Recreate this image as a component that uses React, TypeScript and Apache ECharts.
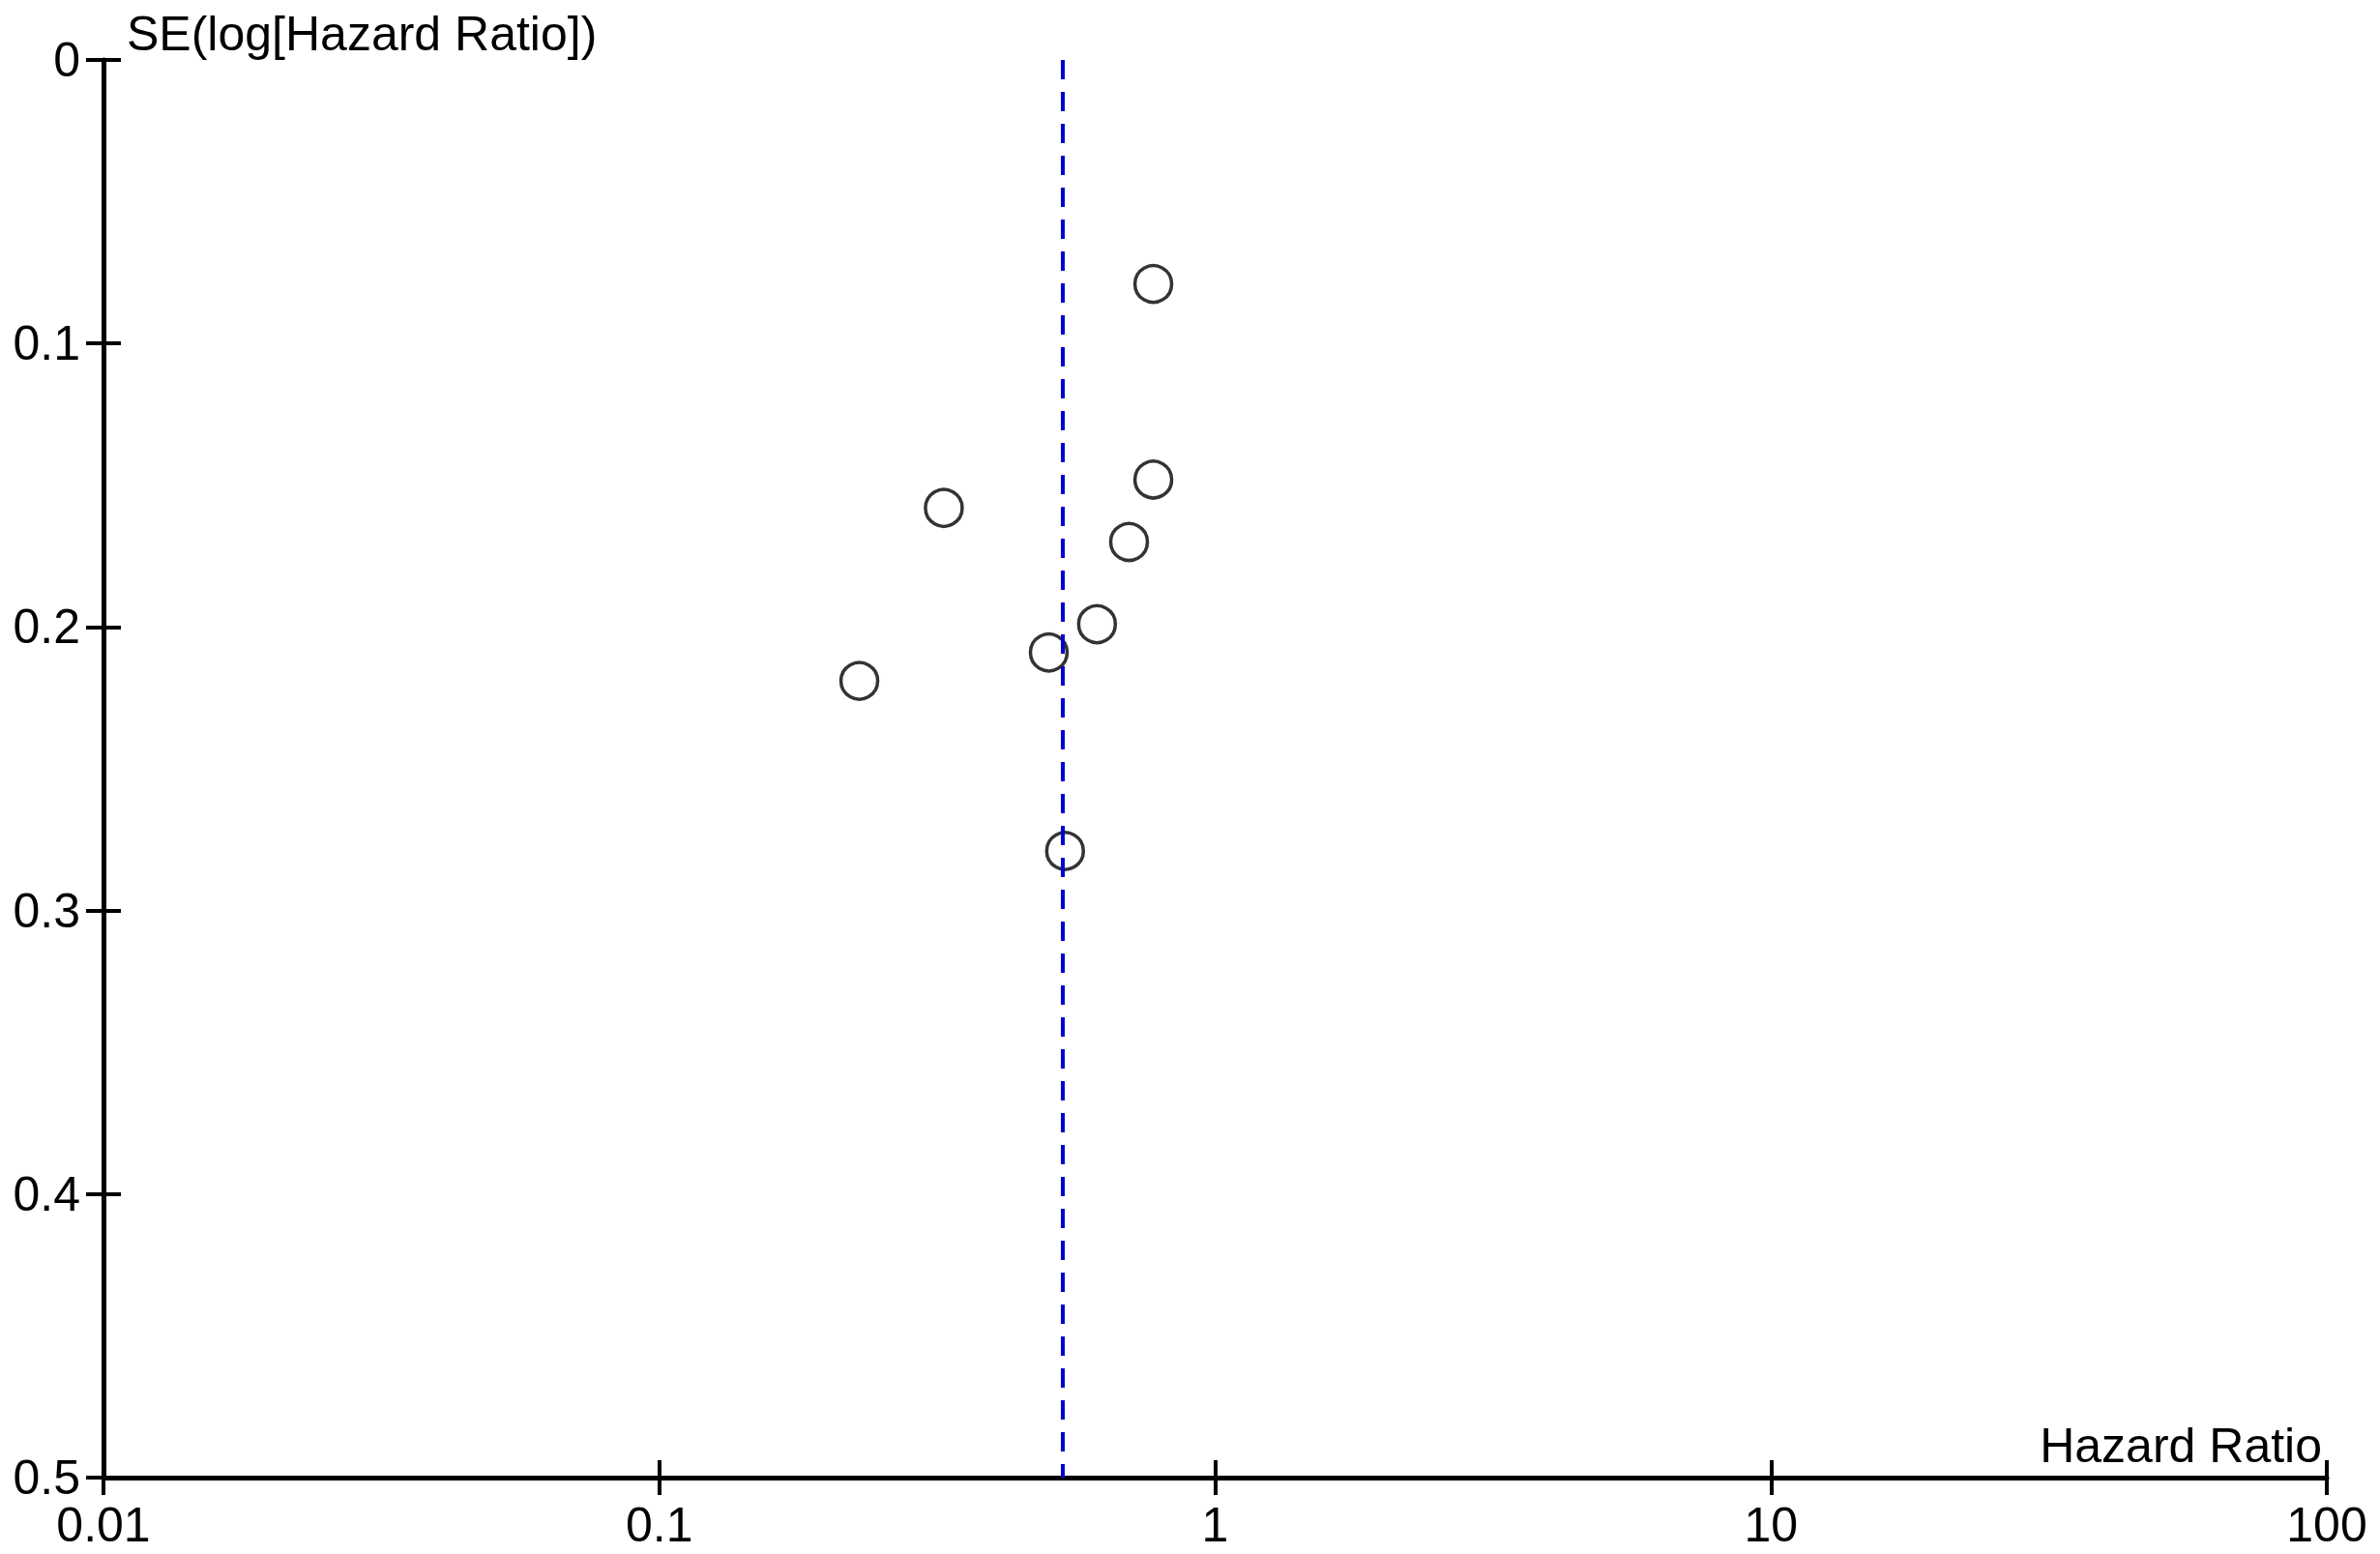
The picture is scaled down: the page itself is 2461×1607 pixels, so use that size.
import React, { useEffect, useRef } from "react";
import * as echarts from "echarts";

const hazardRatios = [0.774, 0.774, 0.325, 0.7, 0.613, 0.502, 0.229, 0.537];
const seLogHR = [0.079, 0.148, 0.158, 0.17, 0.199, 0.209, 0.219, 0.279];
const pooledHR = 0.532;
const seRange = [0, 0.5];
const hrRange = [0.01, 100];

const FONT = "'Liberation Sans', Arial, sans-serif";

export default function App() {
  const ref = useRef<HTMLDivElement>(null);
  useEffect(() => {
    if (!ref.current) return;
    const chart = echarts.init(ref.current, undefined, { renderer: "svg" });
    const points = hazardRatios.map((h, i) => [h, seLogHR[i]]);
    const pooledLine = [
      [pooledHR, seRange[0]],
      [pooledHR, seRange[1]],
    ];
    const axisLineStyle = { color: "#000", width: 5 };
    const tickStyle = { color: "#000", width: 4 };
    chart.setOption({
      animation: false,
      backgroundColor: "#fff",
      grid: { left: 107, right: 55, top: 62, bottom: 79, containLabel: false },
      xAxis: [
        {
          type: "log",
          logBase: 10,
          min: hrRange[0],
          max: hrRange[1],
          position: "bottom",
          name: "Hazard Ratio",
          nameLocation: "end",
          nameGap: -5,
          nameTextStyle: {
            fontFamily: FONT,
            fontSize: 50,
            color: "#000",
            align: "right",
            verticalAlign: "bottom",
            padding: [0, 0, 8, 0],
          },
          axisLine: { show: true, onZero: false, lineStyle: axisLineStyle },
          axisTick: { show: true, inside: false, length: 18, lineStyle: tickStyle },
          axisLabel: { fontFamily: FONT, fontSize: 50, color: "#000", margin: 24 },
          splitLine: { show: false },
          minorTick: { show: false },
        },
        {
          type: "log",
          logBase: 10,
          min: hrRange[0],
          max: hrRange[1],
          position: "bottom",
          axisLine: { show: false, onZero: false },
          axisTick: { show: true, inside: true, length: 18, lineStyle: tickStyle },
          axisLabel: { show: false },
          splitLine: { show: false },
        },
      ],
      yAxis: [
        {
          type: "value",
          min: seRange[0],
          max: seRange[1],
          interval: 0.1,
          inverse: true,
          position: "left",
          name: "SE(log[Hazard Ratio])",
          nameLocation: "start",
          nameGap: 2,
          nameTextStyle: {
            fontFamily: FONT,
            fontSize: 50,
            color: "#000",
            align: "left",
            verticalAlign: "bottom",
            padding: [0, 0, 0, 24],
          },
          axisLine: { show: true, onZero: false, lineStyle: axisLineStyle },
          axisTick: { show: true, inside: false, length: 18, lineStyle: tickStyle },
          axisLabel: { fontFamily: FONT, fontSize: 50, color: "#000", margin: 24 },
          splitLine: { show: false },
        },
        {
          type: "value",
          min: seRange[0],
          max: seRange[1],
          interval: 0.1,
          inverse: true,
          position: "left",
          axisLine: { show: false, onZero: false },
          axisTick: { show: true, inside: true, length: 18, lineStyle: tickStyle },
          axisLabel: { show: false },
          splitLine: { show: false },
        },
      ],
      series: [
        {
          type: "scatter",
          xAxisIndex: 0,
          yAxisIndex: 0,
          data: points,
          symbol: "circle",
          symbolSize: 38,
          itemStyle: { color: "transparent", borderColor: "#000", borderWidth: 3.5 },
          z: 2,
        },
        {
          type: "line",
          xAxisIndex: 0,
          yAxisIndex: 0,
          data: pooledLine,
          symbol: "none",
          lineStyle: { color: "#0000CD", width: 4, type: [20, 13] },
          z: 3,
        },
      ],
    });
    return () => chart.dispose();
  }, []);
  return (
    <div
      ref={ref}
      style={{ position: "fixed", left: 0, top: 0, width: 2461, height: 1607, background: "#fff" }}
    />
  );
}
